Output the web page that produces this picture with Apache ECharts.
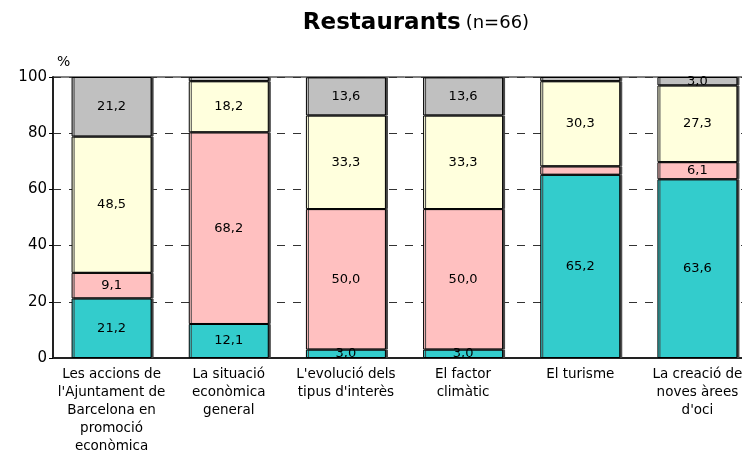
<!DOCTYPE html>
<html>
<head>
<meta charset="utf-8">
<script src="https://cdn.jsdelivr.net/npm/echarts@6/dist/echarts.min.js"></script>
<style>
html, body { margin: 0; padding: 0; background: #fff; overflow: hidden; }
#chart { width: 757px; height: 456px; }
</style>
</head>
<body>
<div id="chart"></div>
<script>
var categories = [
    "Les accions de\nl'Ajuntament de\nBarcelona en\npromoció\neconòmica",
    "La situació\neconòmica\ngeneral",
    "L'evolució dels\ntipus d'interès",
    "El factor\nclimàtic",
    "El turisme",
    "La creació de\nnoves àrees\nd'oci"
];
var teal = [21.2, 12.1, 3.0, 3.0, 65.2, 63.6];
var pink = [9.1, 68.2, 50.0, 50.0, 3.0, 6.1];
var yellow = [48.5, 18.2, 33.3, 33.3, 30.3, 27.3];
var grey = [21.2, 1.5, 13.6, 13.6, 1.5, 3.0];
// segments whose value is not written on the bar
var hiddenLabels = { pink: [4], grey: [1, 4] };
var yTicks = [0, 20, 40, 60, 80, 100];

// the plot runs past the right edge of the 742px window, like the original
var dom = document.getElementById('chart');
var chart = echarts.init(dom, null, { renderer: 'canvas' });

function fmt(v) {
    return v.toFixed(1).replace('.', ',');
}

function makeSeries(name, values, color) {
    var hide = hiddenLabels[name] || [];
    return {
        name: name,
        type: 'bar',
        stack: 'total',
        barWidth: 80,
        data: values.map(function (v, i) {
            return { value: v, label: { show: hide.indexOf(i) < 0 } };
        }),
        itemStyle: {
            color: color,
            borderColor: '#000',
            borderWidth: 1,
            shadowColor: '#444',
            shadowOffsetX: 2,
            shadowBlur: 0
        },
        label: {
            show: true,
            position: 'inside',
            color: '#000',
            fontFamily: 'DejaVu Sans',
            fontSize: 13,
            formatter: function (p) { return fmt(p.value); }
        }
    };
}

var option = {
    animation: false,
    title: {
        text: '{b|Restaurants} {n|(n=66)}',
        left: 411,
        textAlign: 'center',
        top: 7,
        textStyle: {
            rich: {
                b: { fontFamily: 'DejaVu Sans', fontWeight: 'bold', fontSize: 23, color: '#000' },
                n: { fontFamily: 'DejaVu Sans', fontWeight: 'normal', fontSize: 18, color: '#000' }
            }
        }
    },
    grid: {
        left: 53,
        top: 77,
        right: 1,
        bottom: 98,
        show: true,
        borderColor: '#000',
        borderWidth: 1,
        containLabel: false
    },
    xAxis: {
        type: 'category',
        data: categories,
        axisTick: { show: false },
        axisLine: { show: true, lineStyle: { color: '#222', width: 2 } },
        axisLabel: {
            color: '#000',
            fontFamily: 'DejaVu Sans',
            fontSize: 13.5,
            lineHeight: 18,
            margin: 7,
            interval: 0
        }
    },
    yAxis: {
        type: 'value',
        min: yTicks[0],
        max: yTicks[yTicks.length - 1],
        interval: 20,
        name: '%',
        nameLocation: 'end',
        nameGap: 8,
        nameTextStyle: { color: '#000', fontFamily: 'DejaVu Sans', fontSize: 14, align: 'left', padding: [0, 0, 0, 4] },
        axisLine: { show: true, lineStyle: { color: '#222', width: 2 } },
        axisTick: { show: true, length: 4, lineStyle: { color: '#000' } },
        axisLabel: { color: '#000', fontFamily: 'DejaVu Sans', fontSize: 15, margin: 6 },
        splitLine: { show: true, lineStyle: { color: '#333', type: [8, 8], width: 1 } }
    },
    series: [
        makeSeries('teal', teal, '#33CCCC'),
        makeSeries('pink', pink, '#FFC0C0'),
        makeSeries('yellow', yellow, '#FFFFDD'),
        makeSeries('grey', grey, '#C0C0C0')
    ]
};

chart.setOption(option);
window.addEventListener('resize', chart.resize);
</script>
</body>
</html>
